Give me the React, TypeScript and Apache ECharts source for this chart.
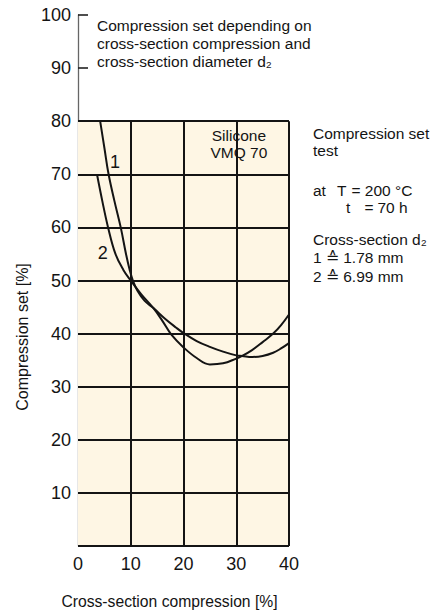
import React, { useEffect, useRef } from 'react';
import * as echarts from 'echarts';

// Curve 1: cross-section d2 = 1.78 mm
const curve1X = [4.2, 5.0, 5.8, 6.9, 8.1, 9.1, 9.8, 10.4, 11.3, 12.6, 14.3, 16.5, 18.5, 20.0, 22.5, 25.0, 27.5, 30.0, 31.1, 33.0, 35.0, 37.0, 38.5, 40.0];
const curve1Y = [80, 75, 70, 65, 60, 55, 52, 50, 48.0, 46.2, 44.8, 42.8, 41.2, 40.1, 38.6, 37.5, 36.6, 35.9, 35.8, 35.6, 35.8, 36.4, 37.2, 38.2];
// Curve 2: cross-section d2 = 6.99 mm
const curve2X = [3.6, 4.6, 5.7, 7.1, 8.6, 10.0, 12.0, 14.3, 16.0, 17.7, 20.0, 22.5, 25.0, 27.5, 30.0, 31.1, 33.0, 35.0, 37.0, 38.5, 40.0];
const curve2Y = [70, 65, 60, 55, 52, 50, 47.4, 44.8, 42.4, 39.8, 37.4, 35.4, 34.2, 34.4, 35.3, 35.8, 36.9, 38.4, 40, 41.6, 43.6];

// Shaded diagram area and its grid
const areaTopX = [0, 40];
const areaTopY = [80, 80];
const hGridValues = [0, 10, 20, 30, 40, 50, 60, 70, 80];
const vGridValues = [10, 20, 30, 40];

// Axis ranges / ticks
const xMin = 0, xMax = 40, xInterval = 10;
const yMin = 0, yMax = 100, yInterval = 10;

// In-plot labels
const curveLabelNames = ['1', '2'];
const curveLabelX = [7.0, 4.7];
const curveLabelY = [72.3, 55.2];
const materialLines = ['Silicone', 'VMQ 70'];
const materialX = 30.5;
const materialY = [77.4, 74.1];

const titleLines = ['Compression set depending on', 'cross-section compression and', 'cross-section diameter d\u2082'];
const xAxisName = 'Cross-section compression [%]';
const yAxisName = 'Compression set [%]';

const FONT = '"Liberation Sans", Arial, Helvetica, sans-serif';
const INK = '#141414';
const CREAM = '#FEF6E4';

export default function App() {
  const ref = useRef<HTMLDivElement>(null);
  useEffect(() => {
    const chart = echarts.init(ref.current as HTMLDivElement, null, { renderer: 'svg' });

    const txt = (text: string, x: number, y: number, size = 15.5, align = 'left', extra: any = {}) => ({
      type: 'text',
      x,
      y,
      silent: true,
      z: 10,
      ...extra,
      style: { text, fill: INK, fontSize: size, fontFamily: FONT, align, verticalAlign: 'middle' },
    });

    const markLineData: any[] = [];
    hGridValues.forEach((v) => markLineData.push([{ coord: [xMin, v] }, { coord: [xMax, v] }]));
    vGridValues.forEach((v) => markLineData.push([{ coord: [v, 0] }, { coord: [v, 80] }]));

    chart.setOption({
      animation: false,
      backgroundColor: '#ffffff',
      grid: { left: 78, right: 142, top: 15, bottom: 66 },
      xAxis: {
        type: 'value',
        min: xMin,
        max: xMax,
        interval: xInterval,
        axisLine: { show: false },
        axisTick: { show: false },
        splitLine: { show: false },
        axisLabel: { fontSize: 18, color: INK, fontFamily: FONT, margin: 9 },
      },
      yAxis: {
        type: 'value',
        min: yMin,
        max: yMax,
        interval: yInterval,
        axisLine: { show: true, lineStyle: { color: '#666', width: 1.3 } },
        axisTick: { show: true, inside: true, length: 10, lineStyle: { color: '#222', width: 1.6 } },
        splitLine: { show: false },
        axisLabel: { fontSize: 18, color: INK, fontFamily: FONT, margin: 7, showMinLabel: false },
      },
      series: [
        {
          type: 'line',
          name: 'area',
          data: areaTopX.map((x, i) => [x, areaTopY[i]]),
          symbol: 'none',
          silent: true,
          z: 1,
          lineStyle: { width: 0 },
          areaStyle: { color: CREAM, opacity: 1, origin: 'start' },
          markLine: {
            silent: true,
            symbol: ['none', 'none'],
            label: { show: false },
            lineStyle: { color: INK, width: 2, type: 'solid' },
            data: markLineData,
          },
        },
        {
          type: 'line',
          name: '1',
          data: curve1X.map((x, i) => [x, curve1Y[i]]),
          symbol: 'none',
          smooth: 0.4,
          z: 6,
          lineStyle: { color: INK, width: 2 },
        },
        {
          type: 'line',
          name: '2',
          data: curve2X.map((x, i) => [x, curve2Y[i]]),
          symbol: 'none',
          smooth: 0.4,
          z: 6,
          lineStyle: { color: INK, width: 2 },
        },
      ],
    });

    const px = (x: number, y: number) => chart.convertToPixel({ xAxisIndex: 0, yAxisIndex: 0 }, [x, y]) as number[];

    const plotLabels: any[] = [];
    curveLabelNames.forEach((n, i) => {
      const p = px(curveLabelX[i], curveLabelY[i]);
      plotLabels.push(txt(n, p[0], p[1], 18, 'center'));
    });
    materialLines.forEach((s, i) => {
      const p = px(materialX, materialY[i]);
      plotLabels.push(txt(s, p[0], p[1], 15.5, 'center'));
    });

    chart.setOption({
      graphic: [
        ...plotLabels,
        txt(titleLines[0], 97, 25),
        txt(titleLines[1], 97, 43.3),
        txt(titleLines[2], 97, 61.7),
        txt('Compression set', 313, 133.5),
        txt('test', 313, 150.5),
        txt('at', 313, 190),
        txt('T', 337, 190),
        txt('= 200 \u00B0C', 351.5, 190),
        txt('t', 346, 207),
        txt('=', 364.5, 207),
        txt('70 h', 377.5, 207),
        txt('Cross-section d\u2082', 313, 239),
        txt('1 \u2259 1.78 mm', 313, 257.5),
        txt('2 \u2259 6.99 mm', 313, 276),
        txt(xAxisName, 169.5, 601.5, 15.7, 'center'),
        txt(yAxisName, 22.7, 337, 16, 'center', { rotation: Math.PI / 2 }),
      ],
    });
    return () => chart.dispose();
  }, []);
  return (
    <div
      ref={ref}
      style={{ position: 'fixed', left: 0, top: 0, width: 431, height: 612, background: '#fff' }}
    />
  );
}
